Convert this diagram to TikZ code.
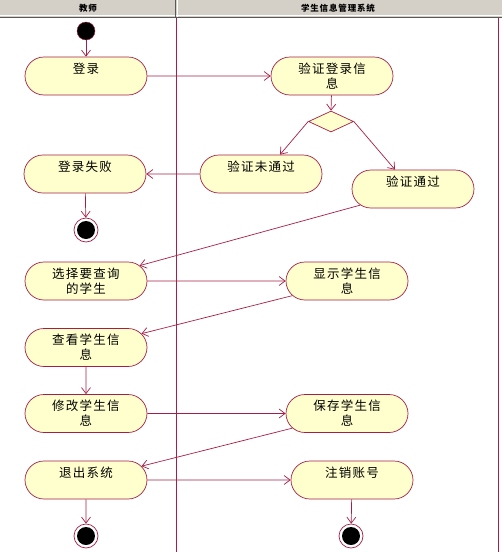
\documentclass[tikz,border=0pt]{standalone}
\usepackage{fontspec}
\setmainfont{Noto Sans CJK SC}[LetterSpace=10]
\usetikzlibrary{shapes.misc,shapes.geometric,arrows.meta}
\definecolor{crim}{RGB}{165,30,70}
\definecolor{actfill}{RGB}{255,255,206}
\definecolor{hdrgray}{RGB}{212,208,200}
\tikzset{
  act/.style={draw=crim, fill=actfill, rounded rectangle, minimum width=122pt, minimum height=38pt,
    inner sep=0pt, align=center, font=\fontsize{12.5}{15}\selectfont, line width=0.7pt},
  flow/.style={draw=crim, line width=0.7pt, -{Straight Barb[length=6pt,width=9pt]}},
  hdr/.style={font=\fontsize{8.5}{9}\selectfont\bfseries}
}
\newcommand{\blank}{\\\phantom{字}}
\begin{document}
\begin{tikzpicture}[x=1pt,y=-1pt]
\useasboundingbox (0,0) rectangle (502,552);
% header
\fill[hdrgray] (0,0) rectangle (502,17);
\draw[gray!70!black, line width=0.8pt] (0,17) -- (502,17);
\draw[white, line width=0.6pt] (0,15.5) -- (502,15.5);
\draw[gray!70!black, line width=0.8pt] (175.5,0) -- (175.5,17);
\draw[white, line width=0.6pt] (177,0) -- (177,17);
\node[hdr] (h1) at (88,8) {教师};
\node[hdr] (h2) at (338,8) {学生信息管理系统};
% lanes
\draw[crim, line width=0.8pt] (176,18) -- (176,552);
\draw[crim, line width=0.8pt] (498,18) -- (498,552);
% nodes
\node[circle, fill=black, draw=crim, minimum size=18pt, inner sep=0pt] (start) at (86,31) {};
\node[act] (login) at (86,76) {登录\blank};
\node[act] (verify) at (332,76) {验证登录信\\息};
\node[diamond, draw=crim, fill=actfill, minimum width=45pt, minimum height=21pt, inner sep=0pt, aspect=2.1, line width=0.7pt] (dec) at (331,121.5) {};
\node[act] (fail) at (85,174) {登录失败\blank};
\node[act] (notpass) at (261,174) {验证未通过\blank};
\node[act] (pass) at (413,189) {验证通过\blank};
\node[act] (select) at (86,281) {选择要查询\\的学生};
\node[act] (show) at (347,281) {显示学生信\\息};
\node[act] (view) at (86,347.5) {查看学生信\\息};
\node[act] (modify) at (86,413.5) {修改学生信\\息};
\node[act] (save) at (347,413.5) {保存学生信\\息};
\node[act] (exit) at (86,480) {退出系统\blank};
\node[act] (logout) at (352,480) {注销账号\blank};
% end states
\foreach \n/\x/\y in {end1/86/230, end2/86/536, end3/351/536}{
  \node[circle, draw=crim, fill=white, minimum size=24pt, inner sep=0pt, line width=0.7pt] (\n) at (\x,\y) {};
  \fill[black] (\n.center) circle (9);
}
% edges
\draw[flow] (start) -- (login);
\draw[flow] (login) -- (verify);
\draw[flow] (verify) -- (dec.north);
\draw[flow] (dec.west) -- ([xshift=19pt]notpass.north);
\draw[flow] (dec.east) -- ([xshift=-18pt]pass.north);
\draw[flow] (notpass) -- (fail);
\draw[flow] (fail) -- (end1);
\draw[flow] (pass.197) -- (select.16);
\draw[flow] (select) -- (show);
\draw[flow] (show.195) -- (view.14);
\draw[flow] (view) -- (modify);
\draw[flow] (modify) -- (save);
\draw[flow] (save.195) -- (exit.14);
\draw[flow] (exit) -- (logout);
\draw[flow] (exit) -- (end2);
\draw[flow] (logout) -- (end3);
\end{tikzpicture}
\end{document}
